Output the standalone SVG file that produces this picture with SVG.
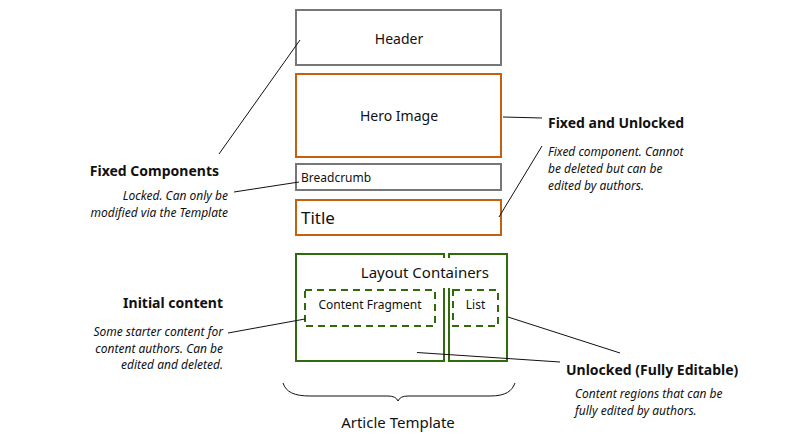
<svg xmlns="http://www.w3.org/2000/svg" width="786" height="447" viewBox="0 0 786 447">
<style>
text{font-family:"Noto Sans","Open Sans",sans-serif;fill:#111}
.box{fill:none;stroke-width:2}
.gray{stroke:#777}
.orange{stroke:#c5600f}
.green{stroke:#2f6b0a}
.dash{stroke-dasharray:7,5}
.lbl{font-size:14px}
.h{font-size:14px;font-weight:bold}
.it{font-size:12px;font-style:italic}
.ln{stroke:#111;stroke-width:1;fill:none}
</style>
<rect width="786" height="447" fill="#fff"/>
<g id="header"><rect class="box gray" x="296" y="10" width="205" height="55"/><text class="lbl" x="399" y="44" text-anchor="middle">Header</text></g>
<g id="hero"><rect class="box orange" x="296" y="74" width="205" height="83"/><text class="lbl" x="399" y="121" text-anchor="middle">Hero Image</text></g>
<g id="breadcrumb"><rect class="box gray" x="296" y="164" width="205" height="26"/><text x="301" y="182" font-size="12">Breadcrumb</text></g>
<g id="title"><rect class="box orange" x="296" y="200" width="205" height="35"/><text x="301" y="224" font-size="17">Title</text></g>
<g id="layout-left"><rect class="box green" x="296" y="254" width="148" height="107"/></g>
<g id="layout-right"><rect class="box green" x="449" y="254" width="58" height="107"/></g>
<g id="layout-label"><rect x="442" y="258" width="9" height="30" fill="#fff"/><text x="489" y="278" font-size="15" text-anchor="end">Layout Containers</text></g>
<g id="content-fragment"><rect class="box green dash" x="305" y="290" width="130" height="36"/><text x="370" y="309" font-size="12" text-anchor="middle">Content Fragment</text></g>
<g id="list"><rect class="box green dash" x="453" y="290" width="45" height="36"/><text x="475.5" y="309" font-size="12" text-anchor="middle">List</text></g>
<g id="fixed-components"><text class="h" x="219" y="176" text-anchor="end">Fixed Components</text><text class="it" x="228" y="200" text-anchor="end">Locked. Can only be</text><text class="it" x="228" y="217" text-anchor="end">modified via the Template</text></g>
<g id="fixed-unlocked"><text class="h" x="548" y="128">Fixed and Unlocked</text><text class="it" x="548" y="156">Fixed component. Cannot</text><text class="it" x="548" y="173">be deleted but can be</text><text class="it" x="548" y="190">edited by authors.</text></g>
<g id="initial-content"><text class="h" x="223" y="308" text-anchor="end">Initial content</text><text class="it" x="223" y="336" text-anchor="end">Some starter content for</text><text class="it" x="223" y="353" text-anchor="end">content authors. Can be</text><text class="it" x="223" y="369" text-anchor="end">edited and deleted.</text></g>
<g id="unlocked"><text class="h" x="566" y="375" font-size="15">Unlocked (Fully Editable)</text><text class="it" x="575" y="398">Content regions that can be</text><text class="it" x="575" y="415">fully edited by authors.</text></g>
<g id="article-template"><path class="ln" d="M283,383 C286,392 294,396 310,396 L388,396 Q396,396 398,401 Q400,396 408,396 L490,396 C506,396 512,391 515,383"/><text x="398" y="428" font-size="15" text-anchor="middle">Article Template</text></g>
<g id="connectors">
<line class="ln" x1="300" y1="40" x2="219" y2="154"/>
<line class="ln" x1="234" y1="192" x2="299" y2="182"/>
<line class="ln" x1="503" y1="117" x2="542" y2="118"/>
<line class="ln" x1="542" y1="146" x2="499" y2="217"/>
<line class="ln" x1="228" y1="333" x2="305" y2="319"/>
<line class="ln" x1="508" y1="317" x2="620" y2="353"/>
<line class="ln" x1="417" y1="352.5" x2="560" y2="362"/>
</g>
</svg>
